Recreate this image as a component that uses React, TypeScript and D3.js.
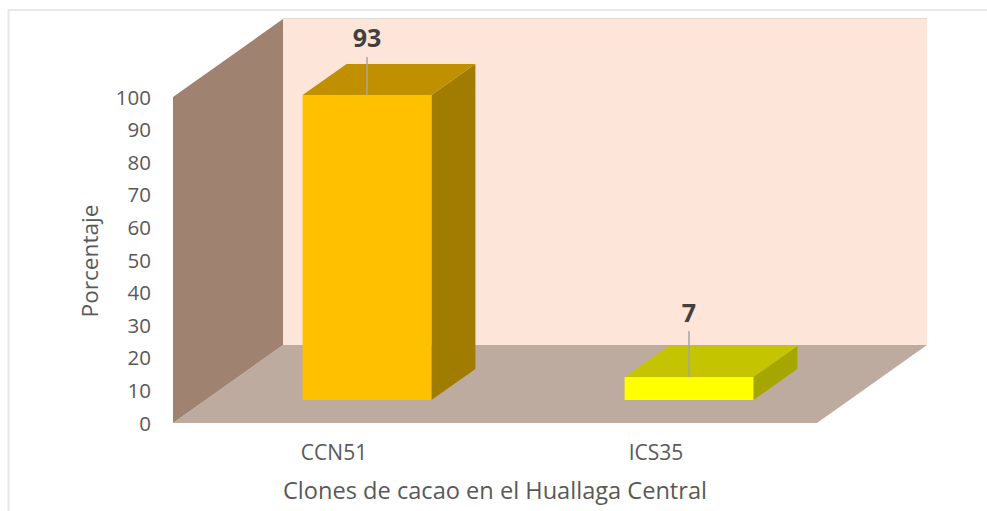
import React from "react";
import * as d3 from "d3";

const categories = ["CCN51", "ICS35"];
const values = [93, 7];
const yTicks = [0, 10, 20, 30, 40, 50, 60, 70, 80, 90, 100];
const faceColors = ["#ffc000", "#ffff00"];
const topColors = ["#c09000", "#c4c400"];
const sideColors = ["#a07c00", "#a6a600"];
const FONT = "'Open Sans', sans-serif";

const y = d3.scaleLinear().domain([0, 100]).range([423, 97]);
const barH = d3.scaleLinear().domain([0, 100]).range([0, 328]);
const x = d3.scaleBand<string>().domain(categories).range([173, 817]).paddingInner(0.6).paddingOuter(0.3);
const barBaseLift = 23;
const barShift = 33;
const wallDx = 110;
const wallDy = -78;
const barDx = 44;
const barDy = -31;
const line = d3.line<[number, number]>();
const poly = (pts: [number, number][]) => line(pts) + "Z";

export default function App() {
  const x0 = 173, x1 = 817, y0 = y(0), yT = y(100);
  return (
    <svg width={987} height={511} style={{ position: "absolute", left: 0, top: 0 }}>
      <rect width={987} height={511} fill="#fff" />
      <path d="M987 10H8.5V511" fill="none" stroke="#e8e8e8" strokeWidth={2} />
      <path d={poly([[x0 + wallDx, yT + wallDy], [x1 + wallDx, yT + wallDy], [x1 + wallDx, y0 + wallDy], [x0 + wallDx, y0 + wallDy]])} fill="#fde5d9" />
      <path d={`M${x0 + wallDx} ${yT + wallDy - 0.5}H${x1 + wallDx}`} stroke="#e0d8d2" strokeWidth={1} />
      <path d={poly([[x0, y0], [x0 + wallDx, y0 + wallDy], [x1 + wallDx, y0 + wallDy], [x1, y0]])} fill="#bdaba0" />
      <path d={poly([[x0, yT], [x0 + wallDx, yT + wallDy], [x0 + wallDx, y0 + wallDy], [x0, y0]])} fill="#a08270" />
      {categories.map((c, i) => {
        const bx = x(c)! + barShift;
        const bw = x.bandwidth();
        const by = y(0) - barBaseLift;
        const h = barH(values[i]);
        const top = by - h;
        const mid = bx + bw / 2;
        return (
          <g key={c}>
            <path d={poly([[bx + bw, top], [bx + bw + barDx, top + barDy], [bx + bw + barDx, by + barDy], [bx + bw, by]])} fill={sideColors[i]} />
            <path d={poly([[bx, top], [bx + barDx, top + barDy], [bx + bw + barDx, top + barDy], [bx + bw, top]])} fill={topColors[i]} />
            <rect x={bx} y={top} width={bw} height={h} fill={faceColors[i]} />
            <line x1={mid} x2={mid} y1={top} y2={top - (i === 0 ? 38 : 46)} stroke="#a6a6a6" strokeWidth={1.5} />
            <text x={mid} y={top - (i === 0 ? 48 : 55)} textAnchor="middle" fontFamily={FONT} fontWeight={700} fontSize={25} fill="#404040">{values[i]}</text>
            <text x={mid - 33} y={460} textAnchor="middle" fontFamily={FONT} fontSize={21} fill="#595959">{c}</text>
          </g>
        );
      })}
      {yTicks.map(t => (
        <text key={t} x={151} y={y(t) + 7.5} textAnchor="end" fontFamily={FONT} fontSize={20.5} fill="#595959">{t}</text>
      ))}
      <text transform="translate(98,261) rotate(-90)" textAnchor="middle" fontFamily={FONT} fontSize={22.6} fill="#595959">Porcentaje</text>
      <text x={495} y={499} textAnchor="middle" fontFamily={FONT} fontSize={23.6} fill="#595959">Clones de cacao en el Huallaga Central</text>
    </svg>
  );
}
